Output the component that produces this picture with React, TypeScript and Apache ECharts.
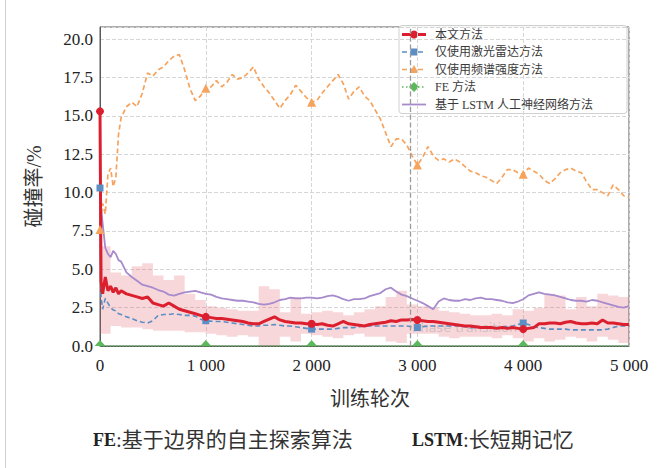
import React, { useEffect, useRef } from "react";
import * as echarts from "echarts";

// Training epochs at which each curve is sampled
const epochs = [
  0, 10, 25, 50, 75, 100, 125, 150, 175, 200,
  250, 300, 350, 400, 450, 500, 550, 600, 650, 700,
  750, 800, 850, 900, 950, 1000, 1050, 1100, 1150, 1200,
  1250, 1300, 1350, 1400, 1450, 1500, 1550, 1600, 1650, 1700,
  1750, 1800, 1850, 1900, 1950, 2000, 2050, 2100, 2150, 2200,
  2250, 2300, 2350, 2400, 2450, 2500, 2550, 2600, 2650, 2700,
  2750, 2800, 2850, 2900, 2950, 3000, 3050, 3100, 3150, 3200,
  3250, 3300, 3350, 3400, 3450, 3500, 3550, 3600, 3650, 3700,
  3750, 3800, 3850, 3900, 3950, 4000, 4050, 4100, 4150, 4200,
  4250, 4300, 4350, 4400, 4450, 4500, 4550, 4600, 4650, 4700,
  4750, 4800, 4850, 4900, 4950, 5000,
];

// 本文方法 collision rate (%)
const ourMethod = [
  15.3, 4.2, 3.4, 4.5, 3.6, 3.9, 3.5, 3.8, 3.4, 3.6,
  3.4, 3.3, 3.2, 3.1, 3.2, 2.8, 2.7, 2.6, 2.8, 2.6,
  2.4, 2.3, 2.2, 2.1, 2.0, 1.9, 1.85, 1.8, 1.8, 1.75,
  1.7, 1.65, 1.6, 1.5, 1.45, 1.45, 1.6, 1.75, 1.9, 1.7,
  1.6, 1.55, 1.5, 1.5, 1.45, 1.45, 1.4, 1.45, 1.35, 1.3,
  1.45, 1.6, 1.45, 1.4, 1.35, 1.3, 1.4, 1.45, 1.5, 1.55,
  1.65, 1.6, 1.7, 1.7, 1.72, 1.7, 1.65, 1.6, 1.6, 1.55,
  1.5, 1.45, 1.4, 1.35, 1.3, 1.3, 1.25, 1.2, 1.2, 1.2,
  1.15, 1.2, 1.15, 1.2, 1.15, 1.1, 1.15, 1.2, 1.45, 1.45,
  1.5, 1.5, 1.45, 1.55, 1.6, 1.5, 1.45, 1.45, 1.5, 1.45,
  1.7, 1.5, 1.5, 1.45, 1.4, 1.4,
];

// 仅使用激光雷达方法
const lidarOnly = [
  10.3, 3.2, 2.4, 3.1, 2.8, 2.5, 2.35, 2.3, 2.1, 2.05,
  1.9, 1.8, 1.65, 1.55, 1.5, 1.65, 2.0, 2.05, 2.05, 2.1,
  2.05, 2.0, 2.0, 1.95, 1.75, 1.65, 1.62, 1.6, 1.6, 1.55,
  1.5, 1.45, 1.4, 1.35, 1.3, 1.3, 1.35, 1.35, 1.4, 1.35,
  1.3, 1.3, 1.25, 1.2, 1.15, 1.1, 1.1, 1.1, 1.1, 1.1,
  1.15, 1.2, 1.2, 1.2, 1.25, 1.3, 1.3, 1.3, 1.3, 1.3,
  1.3, 1.3, 1.3, 1.3, 1.25, 1.2, 1.25, 1.3, 1.3, 1.3,
  1.3, 1.3, 1.3, 1.3, 1.25, 1.2, 1.2, 1.2, 1.2, 1.2,
  1.2, 1.25, 1.25, 1.3, 1.4, 1.5, 1.4, 1.25, 1.2, 1.15,
  1.1, 1.1, 1.1, 1.1, 1.05, 1.05, 1.05, 1.05, 1.05, 1.05,
  1.05, 1.1, 1.2, 1.3, 1.3, 1.3,
];

// 仅使用频谱强度方法
const spectrumOnly = [
  7.6, 8.5, 9.3, 8.6, 11.2, 11.6, 10.4, 11.0, 13.8, 14.9,
  15.6, 15.9, 15.6, 16.5, 17.8, 17.6, 18.0, 18.2, 18.6, 18.9,
  19.0, 18.0, 16.8, 16.0, 16.3, 16.8, 16.9, 17.3, 16.9, 17.2,
  17.7, 17.4, 17.5, 17.8, 18.2, 17.4, 16.9, 16.5, 16.0, 15.5,
  16.0, 16.4, 17.0, 16.6, 16.2, 15.9, 16.0, 16.5, 16.9, 17.3,
  17.7, 17.1, 16.1, 16.6, 16.9, 16.3, 16.0, 15.4, 14.8, 13.9,
  13.0, 13.5, 13.5, 13.1, 12.4, 11.8, 12.3, 13.0, 12.4, 12.1,
  12.2, 12.0, 12.2, 12.0, 11.7, 11.4, 11.3, 11.1, 11.0, 10.8,
  10.6, 11.0, 11.5, 11.5, 11.3, 11.2, 11.6, 11.4, 11.2, 10.8,
  10.6, 10.9, 11.3, 11.5, 11.6, 11.4, 11.3, 10.7, 10.2, 10.2,
  10.0, 9.8, 10.5, 10.2, 9.8, 9.7,
];

// 基于LSTM人工神经网络方法
const lstmMethod = [
  10.0, 9.0, 8.0, 6.4, 6.0, 5.8, 6.2, 6.0, 5.6, 5.5,
  4.8, 4.5, 4.25, 4.0, 3.9, 3.8, 3.65, 3.55, 3.35, 3.28,
  3.4, 3.5, 3.55, 3.6, 3.5, 3.4, 3.35, 3.2, 3.1, 3.05,
  3.0, 2.95, 2.95, 2.9, 2.85, 2.75, 2.7, 2.75, 2.85, 3.0,
  3.05, 3.15, 3.1, 3.1, 3.15, 3.15, 3.1, 3.15, 3.25, 3.3,
  3.2, 3.05, 2.95, 3.05, 3.05, 3.1, 3.25, 3.35, 3.45, 3.7,
  3.8, 3.55, 3.35, 3.25, 3.1, 2.95, 2.8, 2.6, 2.4, 2.9,
  3.1, 3.0, 2.95, 2.95, 3.05, 3.0, 3.1, 3.15, 3.05, 3.05,
  3.0, 2.95, 2.85, 2.8, 2.9, 3.05, 3.3, 3.4, 3.5, 3.4,
  3.35, 3.3, 3.2, 3.1, 3.0, 2.95, 2.95, 2.9, 3.0, 2.95,
  2.85, 2.75, 2.65, 2.55, 2.5, 2.6,
];

// FE方法 stays at zero throughout training
const feEpochs = [0, 1000, 2000, 3000, 4000, 5000];
const feRate = [0, 0, 0, 0, 0, 0];

// Spread band around 本文方法 (held constant over each 100-epoch block)
const bandEpochs = [
  0, 100, 200, 300, 400, 500, 600, 700, 800, 900,
  1000, 1100, 1200, 1300, 1400, 1500, 1600, 1700, 1800, 1900,
  2000, 2100, 2200, 2300, 2400, 2500, 2600, 2700, 2800, 2900,
  3000, 3100, 3200, 3300, 3400, 3500, 3600, 3700, 3800, 3900,
  4000, 4100, 4200, 4300, 4400, 4500, 4600, 4700, 4800, 4900,
  5000,
];
const bandLow = [
  0.8, 1.3, 1.2, 1.2, 1.1, 1.0, 1.0, 1.0, 0.9, 0.9,
  0.8, 0.7, 0.6, 0.7, 0.6, 0.0, 0.0, 0.6, 0.3, 0.8,
  0.7, 0.6, 0.5, 0.7, 0.8, 0.6, 0.6, 0.3, 0.2, 0.8,
  0.8, 0.8, 0.6, 0.5, 0.6, 0.6, 0.6, 0.5, 0.7, 0.5,
  0.3, 0.5, 0.3, 0.4, 0.6, 0.5, 0.3, 0.6, 0.4, 0.2,
  0.2,
];
const bandHigh = [
  6.5, 4.8, 4.6, 5.2, 5.4, 4.6, 4.3, 4.6, 3.4, 3.0,
  2.6, 2.5, 2.4, 2.3, 2.3, 3.9, 3.7, 2.2, 3.2, 2.1,
  2.2, 2.3, 2.2, 2.0, 2.2, 2.4, 2.6, 3.2, 3.6, 2.7,
  2.6, 2.5, 2.3, 2.2, 2.1, 2.0, 2.0, 2.1, 2.0, 2.4,
  2.3, 2.5, 3.4, 3.3, 2.4, 3.2, 2.6, 3.4, 3.3, 3.2,
  3.0,
];

const xTickLabels = ["0", "1 000", "2 000", "3 000", "4 000", "5 000"];
const phaseEpoch = 2930;

const RED = "#dc1f2e";
const BLUE = "#5b8fc4";
const ORANGE = "#f6a35e";
const GREEN = "#5cb85c";
const PURPLE = "#a78bcc";
const BAND = "rgba(226, 88, 100, 0.24)";

const SERIF = '"Liberation Serif", "Times New Roman", serif';
const CJK = '"Liberation Serif", "Noto Sans CJK SC", sans-serif';

const pairs = (xs: number[], ys: number[]) => xs.map((x, i) => [x, ys[i]]);
const everyThousand = (shape: string) => (v: number[]) =>
  v[0] % 1000 === 0 && v[0] < 5000 ? shape : "none";

// Legend rows
const legendRows = [
  { text: "本文方法", color: RED, width: 3, dash: null as number[] | null, marker: "circle" },
  { text: "仅使用激光雷达方法", color: BLUE, width: 1.6, dash: [5, 3], marker: "rect" },
  { text: "仅使用频谱强度方法", color: ORANGE, width: 1.6, dash: [5, 3], marker: "triangle" },
  { text: "FE 方法", color: GREEN, width: 1.6, dash: [1.5, 2.5], marker: "diamond" },
  { text: "基于 LSTM 人工神经网络方法", color: PURPLE, width: 1.8, dash: null, marker: "none" },
];

function legendGraphic() {
  const left = 402;
  const right = 426;
  const mid = (left + right) / 2;
  const rows = [34.5, 52, 69.5, 87, 104.5];
  const children: any[] = [
    {
      type: "rect",
      shape: { x: 399, y: 25.5, width: 228, height: 88, r: 3 },
      style: { fill: "rgba(255,255,255,0.9)", stroke: "#d0d0d0", lineWidth: 1 },
    },
  ];
  legendRows.forEach((s, i) => {
    const cy = rows[i];
    children.push({
      type: "line",
      shape: { x1: left, y1: cy, x2: right, y2: cy },
      style: { stroke: s.color, lineWidth: s.width, lineDash: s.dash || undefined },
    });
    if (s.marker === "circle") {
      children.push({ type: "circle", shape: { cx: mid, cy, r: 4 }, style: { fill: s.color } });
    } else if (s.marker === "rect") {
      children.push({ type: "rect", shape: { x: mid - 3.5, y: cy - 3.5, width: 7, height: 7 }, style: { fill: s.color } });
    } else if (s.marker === "triangle") {
      children.push({
        type: "polygon",
        shape: { points: [[mid, cy - 4.5], [mid - 4.5, cy + 3.5], [mid + 4.5, cy + 3.5]] },
        style: { fill: s.color },
      });
    } else if (s.marker === "diamond") {
      children.push({
        type: "polygon",
        shape: { points: [[mid, cy - 5], [mid + 5, cy], [mid, cy + 5], [mid - 5, cy]] },
        style: { fill: s.color },
      });
    }
    children.push({
      type: "text",
      x: 435,
      y: cy,
      style: {
        text: s.text,
        verticalAlign: "middle",
        font: `12px "Liberation Serif", "Noto Sans CJK SC", sans-serif`,
        fill: "#3a3a3a",
      },
    });
  });
  return { type: "group", children };
}

export default function App() {
  const ref = useRef<HTMLDivElement>(null);

  useEffect(() => {
    if (!ref.current) return;
    const chart = echarts.init(ref.current, undefined, { renderer: "svg" });

    chart.setOption({
      animation: false,
      backgroundColor: "#ffffff",
      grid: {
        left: 100,
        right: 34,
        top: 27,
        bottom: 122,
        show: true,
        borderColor: "#5a5a5a",
        borderWidth: 1,
        backgroundColor: "transparent",
      },
      xAxis: {
        type: "value",
        min: 0,
        max: 5000,
        interval: 1000,
        axisLine: { show: true, lineStyle: { color: "#5a5a5a" } },
        axisTick: { show: false },
        axisLabel: {
          color: "#222",
          fontFamily: SERIF,
          fontSize: 17,
          margin: 11,
          formatter: (v: number) => xTickLabels[Math.round(v / 1000)] ?? "",
        },
        splitLine: { show: true, lineStyle: { type: "dashed", color: "#d6d6d6" } },
      },
      yAxis: {
        type: "value",
        min: 0,
        max: 20.8,
        interval: 2.5,
        axisLine: { show: true, lineStyle: { color: "#5a5a5a" } },
        axisTick: { show: false },
        axisLabel: {
          color: "#222",
          fontFamily: SERIF,
          fontSize: 17,
          margin: 7,
          showMaxLabel: false,
          formatter: (v: number) => v.toFixed(1),
        },
        splitLine: { show: true, lineStyle: { type: "dashed", color: "#d6d6d6" } },
        name: "碰撞率/%",
        nameLocation: "middle",
        nameGap: 56,
        nameRotate: 90,
        nameTextStyle: { color: "#333", fontFamily: CJK, fontSize: 20 },
      },
      series: [
        {
          name: "phase",
          type: "scatter",
          silent: true,
          symbolSize: 1,
          itemStyle: { color: "transparent" },
          data: [[2900, 1.2]],
          label: {
            show: true,
            position: "right",
            distance: 5,
            formatter: "Phase transition",
            color: "rgba(150,150,150,0.5)",
            fontSize: 13,
            fontFamily: '"DejaVu Sans", sans-serif',
          },
          markLine: {
            silent: true,
            symbol: ["none", "none"],
            label: { show: false },
            lineStyle: { color: "#9a9a9a", type: "dashed", width: 1.3 },
            data: [{ xAxis: phaseEpoch }],
          },
        },
        {
          name: "band",
          type: "custom",
          silent: true,
          clip: true,
          data: [[0, 0]],
          encode: { x: 0, y: 1 },
          renderItem: (_params: any, api: any) => {
            const upper: number[][] = [];
            const lower: number[][] = [];
            for (let i = 0; i < bandEpochs.length - 1; i++) {
              const x0 = bandEpochs[i];
              const x1 = bandEpochs[i + 1];
              upper.push(api.coord([x0, bandHigh[i]]), api.coord([x1, bandHigh[i]]));
              lower.push(api.coord([x0, bandLow[i]]), api.coord([x1, bandLow[i]]));
            }
            return {
              type: "polygon",
              shape: { points: upper.concat(lower.reverse()) },
              style: { fill: BAND, stroke: "none" },
            };
          },
        },
        {
          name: "仅使用频谱强度方法",
          type: "line",
          silent: true,
          symbol: everyThousand("triangle"),
          symbolSize: 9,
          itemStyle: { color: ORANGE },
          lineStyle: { color: ORANGE, width: 1.7, type: [5, 3] },
          data: pairs(epochs, spectrumOnly),
        },
        {
          name: "基于LSTM人工神经网络方法",
          type: "line",
          silent: true,
          symbol: "none",
          lineStyle: { color: PURPLE, width: 1.8 },
          data: pairs(epochs, lstmMethod),
        },
        {
          name: "仅使用激光雷达方法",
          type: "line",
          silent: true,
          symbol: everyThousand("rect"),
          symbolSize: 7,
          itemStyle: { color: BLUE },
          lineStyle: { color: BLUE, width: 1.6, type: [5, 3] },
          data: pairs(epochs, lidarOnly),
        },
        {
          name: "本文方法",
          type: "line",
          silent: true,
          symbol: everyThousand("circle"),
          symbolSize: 8,
          itemStyle: { color: RED },
          lineStyle: { color: RED, width: 3 },
          data: pairs(epochs, ourMethod),
        },
        {
          name: "FE方法",
          type: "line",
          silent: true,
          symbol: everyThousand("triangle"),
          symbolSize: [11, 6],
          symbolOffset: [0, -3],
          itemStyle: { color: GREEN },
          lineStyle: { color: GREEN, width: 1.6, type: "dotted" },
          data: pairs(feEpochs, feRate),
        },
      ],
      graphic: [
        {
          type: "line",
          shape: { x1: 5.5, y1: 0, x2: 5.5, y2: 468 },
          style: { stroke: "#cfcfcf", lineWidth: 1 },
        },
        legendGraphic(),
        {
          type: "text",
          x: 370,
          y: 397,
          style: {
            text: "训练轮次",
            align: "center",
            verticalAlign: "middle",
            font: `20px "Noto Sans CJK SC", sans-serif`,
            fill: "#333",
          },
        },
        {
          type: "text",
          x: 93,
          y: 440,
          style: {
            text: "{b|FE}{n|:基于边界的自主探索算法}",
            verticalAlign: "middle",
            rich: {
              b: { font: `bold 18px ${SERIF}`, fill: "#222" },
              n: { font: `21px ${CJK}`, fill: "#333" },
            },
          },
        },
        {
          type: "text",
          x: 412,
          y: 440,
          style: {
            text: "{b|LSTM}{n|:长短期记忆}",
            verticalAlign: "middle",
            rich: {
              b: { font: `bold 18px ${SERIF}`, fill: "#222" },
              n: { font: `21px ${CJK}`, fill: "#333" },
            },
          },
        },
      ],
    });

    return () => chart.dispose();
  }, []);

  return (
    <div
      ref={ref}
      style={{ position: "fixed", left: 0, top: 0, width: 663, height: 468 }}
    />
  );
}
